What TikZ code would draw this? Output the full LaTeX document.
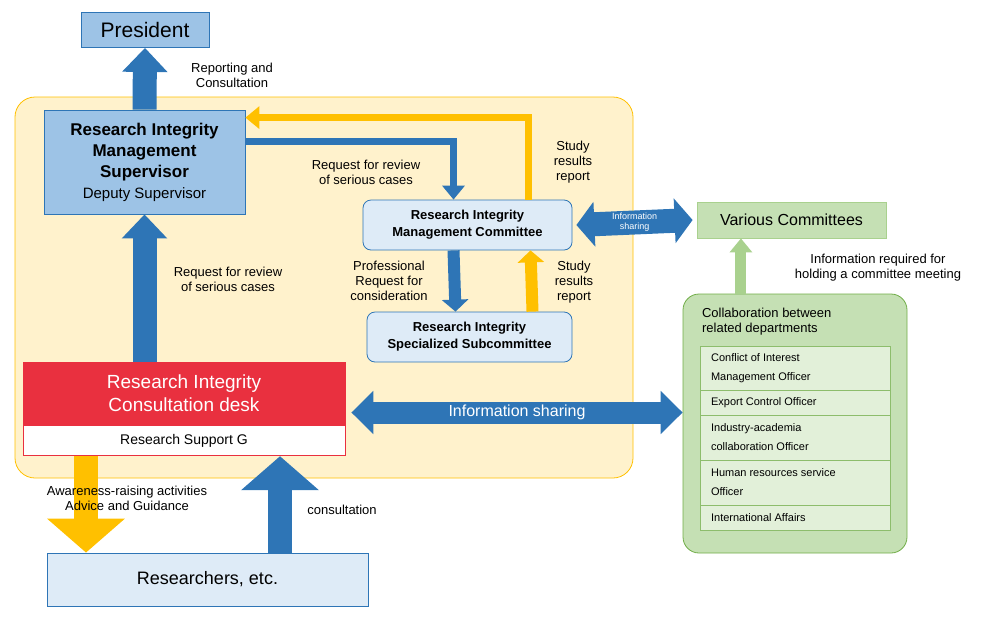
\documentclass[tikz,border=0pt]{standalone}
\usepackage{fontspec}
\setmainfont{Liberation Sans}
\usetikzlibrary{arrows.meta,positioning,calc}
\definecolor{paleyel}{HTML}{FFF2CC}
\definecolor{gold}{HTML}{FFC000}
\definecolor{midblue}{HTML}{2E75B6}
\definecolor{skyblue}{HTML}{9DC3E6}
\definecolor{paleblue}{HTML}{DEEBF7}
\definecolor{leaf}{HTML}{C5E0B4}
\definecolor{paleleaf}{HTML}{E2F0D9}
\definecolor{grass}{HTML}{70AD47}
\definecolor{lightgrass}{HTML}{A9D18E}
\definecolor{alarm}{HTML}{E9303F}
\tikzset{
  box/.style={draw=midblue, inner sep=0pt, align=center},
  note/.style={font=\fontsize{6.5}{7.5}\selectfont, align=center},
  bigarrow/.style={line width=12pt, -{Triangle[length=12pt,width=22pt]}},
  midarrow/.style={line width=3.5pt, -{Triangle[length=7pt,width=11pt]}},
}
\begin{document}
\begin{tikzpicture}[x=0.5pt,y=-0.5pt]
        \useasboundingbox (0,0) rectangle (983,643);
        % Background area
        \fill[paleyel, draw=gold, rounded corners=10pt] (15,97) rectangle (633,478);

        % Boxes
        \node[box, fill=skyblue, minimum width=64pt, minimum height=17.5pt,
              font=\fontsize{10.5}{12}\selectfont] (pres) at (145,30) {President};
        \node[box, fill=skyblue, minimum width=100.5pt, minimum height=52pt,
              font=\bfseries\fontsize{8.5}{10.5}\selectfont] (sup) at (144.5,162)
              {Research Integrity\\Management\\Supervisor\\{\mdseries\fontsize{7.5}{10}\selectfont Deputy Supervisor}};
        \node[box, fill=paleblue, rounded corners=4pt, minimum width=104.5pt, minimum height=25pt,
              font=\bfseries\fontsize{6.5}{8.5}\selectfont] (cmt) at (467.5,225)
              {Research Integrity\\Management Committee};
        \node[box, fill=paleblue, rounded corners=4pt, minimum width=102.5pt, minimum height=25pt,
              font=\bfseries\fontsize{6.5}{8.5}\selectfont] (sub) at (469.5,337)
              {Research Integrity\\Specialized Subcommittee};
        \node[draw=lightgrass, fill=leaf, inner sep=0pt, minimum width=94.5pt, minimum height=18pt,
              font=\fontsize{8}{10}\selectfont] (var) at (791.5,220) {Various Committees};
        \node[draw=alarm, fill=alarm, text=white, inner sep=0pt, minimum width=161pt,
              minimum height=31.5pt, align=center, font=\fontsize{9.5}{11.5}\selectfont] (desk) at (184,393.5)
              {Research Integrity\\Consultation desk};
        \node[draw=alarm, fill=white, inner sep=0pt, minimum width=161pt, minimum height=15pt,
              font=\fontsize{7}{8}\selectfont, below=0pt of desk] (supg) {Research Support G};
        \node[box, fill=paleblue, minimum width=160.5pt, minimum height=26.5pt,
              font=\fontsize{9}{10}\selectfont] (res) at (207.5,579.5) {Researchers, etc.};

        % Collaboration panel
        \node[draw=grass, fill=leaf, rounded corners=8pt, minimum width=112pt, minimum height=129.5pt,
              inner sep=0pt] (coll) at (795,423.5) {};
        \node[anchor=west, align=left, font=\fontsize{6.5}{7.5}\selectfont] (colltitle) at (695,322)
              {Collaboration between\\related departments};
        \foreach \ya/\yb/\txt [count=\i] in {346/390/{Conflict of Interest\\Management Officer},
            390/415/{Export Control Officer}, 415/460/{Industry-academia\\collaboration Officer},
            460/505/{Human resources service\\Officer}, 505/530/{International Affairs}} {
            \fill[paleleaf, draw=grass!80] (700,\ya) rectangle (890,\yb);
            \node[anchor=west, align=left, font=\fontsize{5.5}{9.5}\selectfont] (dept\i)
                  at (704,{(\ya+\yb)/2}) {\txt};
        }

        % Connectors
        \draw[bigarrow, midblue] (sup.north) -- (pres.south);
        \draw[bigarrow, midblue] (sup.south |- desk.north) -- (sup.south);
        \draw[midarrow, midblue] ([yshift=-16pt]sup.north east) -| ([xshift=-7pt]cmt.north);
        \draw[midarrow, gold] ([xshift=30.5pt]cmt.north) |- ([yshift=-4pt]sup.north east);
        \draw[line width=6pt, midblue, -{Triangle[length=6pt,width=13pt]}]
              ([xshift=-7pt]cmt.south) -- ([xshift=-7pt]sub.north);
        \draw[line width=6pt, gold, -{Triangle[length=6pt,width=13pt]}]
              ([xshift=31.5pt]sub.north) -- ([xshift=31.5pt]cmt.south);
        \draw[line width=12pt, midblue, {Triangle[length=9pt,width=22pt]}-{Triangle[length=9pt,width=22pt]}]
              ([xshift=2pt]cmt.east) -- ([xshift=-2pt]var.west)
              node[midway, text=white, font=\fontsize{4.5}{5}\selectfont, align=center] (infotxt)
              {Information\\sharing};
        \draw[line width=5.5pt, lightgrass, -{Triangle[length=7pt,width=11pt]}]
              (coll.north -| var.200) -- (var.200);
        \draw[line width=11pt, midblue, {Triangle[length=11pt,width=21pt]}-{Triangle[length=11pt,width=21pt]}]
              ([xshift=3pt,yshift=-9.5pt]desk.east) -- ([yshift=-9.5pt]coll.west |- desk.east)
              node[midway, text=white, font=\fontsize{8}{9}\selectfont] (infoshare) {Information sharing};
        \draw[bigarrow, gold, -{Triangle[length=17pt,width=38pt]}]
              ([xshift=-49pt]supg.south) -- ([xshift=-49pt]supg.south |- res.north);
        \draw[bigarrow, midblue, -{Triangle[length=17pt,width=38pt]}]
              ([xshift=36.25pt]res.north) -- ([xshift=36.25pt]res.north |- supg.south);

        % Annotations
        \node[note] at (232,75) {Reporting and\\Consultation};
        \node[note] at (366,172) {Request for review\\of serious cases};
        \node[note] at (573,162) {Study\\results\\report};
        \node[note] at (389,281) {Professional\\Request for\\consideration};
        \node[note] at (574,282) {Study\\results\\report};
        \node[note] at (228,279) {Request for review\\of serious cases};
        \node[note] at (878,268) {Information required for\\holding a committee meeting};
        \node[note] at (127,498) {Awareness-raising activities\\Advice and Guidance};
        \node[note] at (342,510) {consultation};
\end{tikzpicture}
\end{document}
